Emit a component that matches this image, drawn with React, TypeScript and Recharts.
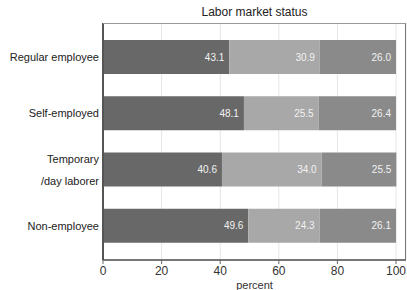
import { BarChart, Bar, XAxis, YAxis, CartesianGrid, LabelList } from 'recharts';

const categories = ['Regular employee', 'Self-employed', 'Temporary\n/day laborer', 'Non-employee'];
const firstShare = [43.1, 48.1, 40.6, 49.6];
const secondShare = [30.9, 25.5, 34.0, 24.3];
const thirdShare = [26.0, 26.4, 25.5, 26.1];
const xTicks = [0, 20, 40, 60, 80, 100];

const FONT = '"Liberation Sans", Arial, sans-serif';

const data = categories.map((name, i) => ({
  name,
  first: firstShare[i],
  second: secondShare[i],
  third: thirdShare[i],
}));

// category labels, multi-line ones split on \n
const CategoryTick = ({ x, y, payload }: any) => {
  const lines = String(payload.value).split('\n');
  const gap = 22;
  const start = -((lines.length - 1) * gap) / 2;
  return (
    <text x={x} y={y} textAnchor="end" fontSize={11} fill="#222" fontFamily={FONT} dominantBaseline="central">
      {lines.map((line, i) => (
        <tspan key={i} x={x} dy={i === 0 ? start : gap}>
          {line}
        </tspan>
      ))}
    </text>
  );
};

const valueLabel = (v: any) => Number(v).toFixed(1);

export default function App() {
  return (
    <div style={{ position: 'fixed', left: 0, top: 0, width: 407, height: 290, background: '#fff' }}>
      <div
        style={{
          position: 'absolute',
          left: 103,
          width: 303,
          top: 5,
          textAlign: 'center',
          fontFamily: FONT,
          fontSize: 12,
          color: '#222',
        }}
      >
        Labor market status
      </div>
      <BarChart
        width={407}
        height={290}
        data={data}
        layout="vertical"
        margin={{ top: 23, right: 1, bottom: 0, left: 0 }}
      >
        <CartesianGrid horizontal={false} stroke="#e6e6e6" strokeWidth={1} />
        <XAxis
          type="number"
          domain={[0, 103.4]}
          ticks={xTicks}
          allowDataOverflow
          height={30}
          tickSize={4}
          tickLine={{ stroke: '#666' }}
          axisLine={{ stroke: '#777', strokeWidth: 2 }}
          tick={{ fontSize: 12, fill: '#333', fontFamily: FONT }}
          label={{ value: 'percent', position: 'insideBottom', offset: 1, fontSize: 11, fill: '#333', fontFamily: FONT }}
        />
        <YAxis
          type="category"
          dataKey="name"
          width={103}
          padding={{ top: 6, bottom: 6 }}
          tickLine={false}
          tickSize={4}
          tickMargin={0}
          axisLine={{ stroke: '#555', strokeWidth: 2 }}
          tick={<CategoryTick />}
        />
        <Bar dataKey="first" stackId="a" fill="#686868" barSize={34} isAnimationActive={false}>
          <LabelList dataKey="first" position="insideRight" offset={5} fill="#f2f2f2" fontSize={10} fontFamily={FONT} formatter={valueLabel} />
        </Bar>
        <Bar dataKey="second" stackId="a" fill="#a8a8a8" barSize={34} isAnimationActive={false}>
          <LabelList dataKey="second" position="insideRight" offset={5} fill="#f2f2f2" fontSize={10} fontFamily={FONT} formatter={valueLabel} />
        </Bar>
        <Bar dataKey="third" stackId="a" fill="#8a8a8a" barSize={34} isAnimationActive={false}>
          <LabelList dataKey="third" position="insideRight" offset={5} fill="#f2f2f2" fontSize={10} fontFamily={FONT} formatter={valueLabel} />
        </Bar>
      </BarChart>
      {/* top and right frame of the plot region */}
      <div
        style={{
          position: 'absolute',
          left: 103,
          top: 23,
          width: 302,
          height: 237,
          borderTop: '1px solid #999',
          borderRight: '1px solid #777',
          pointerEvents: 'none',
        }}
      />
    </div>
  );
}
